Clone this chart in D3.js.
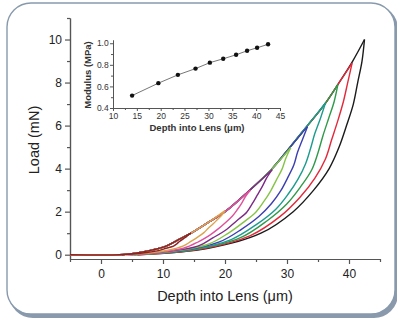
<!DOCTYPE html>
<html>
<head>
<meta charset="utf-8">
<script src="https://cdn.jsdelivr.net/npm/d3@7"></script>
<style>
  body { margin: 0; background: #ffffff; }
  svg { display: block; }
  text { font-family: "Liberation Sans", Arial, sans-serif; fill: #222; }
</style>
</head>
<body>
<svg id="chart" width="397" height="320"></svg>
<script>
// shared loading envelope (depth in um, load in mN)
const envDepth = [-5, 3, 5, 8, 10.5, 12.5, 14.5, 17.3, 20, 24, 27.6, 30.5, 33.3, 36.1, 38.4, 40.6, 42.5];
const envLoad  = [0, 0, 0.05, 0.2, 0.4, 0.7, 1, 1.5, 2, 3, 4, 5, 6, 7, 8, 9, 10];

// one loop per indentation depth, largest first
const loopNames  = ['black', 'red', 'green', 'teal', 'blue', 'lime', 'purple', 'magenta', 'orange', 'brown'];
const loopColors = ['#1b1b1b', '#e3293a', '#2f9a4a', '#1c9c8e', '#3b3fb0', '#86c448', '#7d2a86', '#e0509c', '#dda24a', '#8c2424'];
const peakDepth  = [42.5, 40.5, 38.2, 36.2, 33.3, 30.6, 27.6, 24.1, 20, 14.5];
const peakLoad   = [10, 8.9, 7.9, 7.05, 5.95, 4.97, 3.95, 3.0, 2.05, 1.0];

// unloading branches, read at 90%,80%...10%,3%,0% of the peak load
const unloadFrac = [0.9, 0.8, 0.7, 0.6, 0.5, 0.4, 0.3, 0.2, 0.1, 0.03, 0];
const unloadDepth = [
  [42.1, 41.4, 40.7, 39.6, 38.4, 36.8, 34.3, 31.0, 25.8, 17.3, 6.0],
  [39.8, 39.1, 38.2, 37.2, 36.2, 34.5, 32.1, 28.9, 24.1, 16.2, 5.8],
  [37.6, 36.7, 35.8, 35.0, 34.0, 32.2, 30.0, 26.8, 22.5, 15.1, 5.5],
  [35.4, 34.5, 33.8, 33.0, 31.8, 30.2, 28.2, 25.1, 21.0, 14.1, 5.3],
  [32.5, 31.7, 31.1, 30.1, 29.0, 27.5, 25.5, 22.7, 19.1, 12.8, 4.9],
  [29.8, 29.2, 28.3, 27.4, 26.3, 25.0, 22.9, 20.5, 17.4, 11.4, 4.7],
  [26.7, 26.0, 25.2, 24.4, 23.5, 21.9, 20.3, 18.1, 15.6, 10.0, 4.4],
  [23.3, 22.7, 22.0, 21.2, 20.1, 18.9, 17.5, 15.7, 13.3, 8.6, 4.1],
  [19.5, 18.8, 18.1, 17.3, 16.6, 15.6, 14.5, 13.3, 10.8, 7.2, 3.7],
  [14.0, 13.6, 13.1, 12.6, 12.2, 11.7, 10.5, 9.4, 7.4, 5.2, 3.4]
];

// inset: modulus vs depth
const modDepth = [14, 19.5, 23.6, 27.3, 30.3, 33.1, 35.8, 38.1, 40.2, 42.5];
const modValue = [0.515, 0.63, 0.707, 0.765, 0.82, 0.856, 0.893, 0.93, 0.958, 0.99];

const xTicks = [0, 10, 20, 30, 40];
const yTicks = [0, 2, 4, 6, 8, 10];
const inXTicks = [10, 15, 20, 25, 30, 35, 40, 45];
const inYTicks = [0.4, 0.6, 0.8, 1.0];

const svg = d3.select('#chart');

// card frame with shadow
svg.append('rect')
  .attr('x', 9).attr('y', 5).attr('width', 389).attr('height', 313)
  .attr('rx', 24).attr('fill', '#8a9aac');
svg.append('rect')
  .attr('x', 7).attr('y', 3).attr('width', 388).attr('height', 311)
  .attr('rx', 24).attr('fill', '#fff')
  .attr('stroke', '#8799ad').attr('stroke-width', 1.4);

// main plot
const x = d3.scaleLinear().domain([-5, 45]).range([70, 380]);
const y = d3.scaleLinear().domain([-0.2, 11]).range([259, 18]);

const axisColor = '#555';

const xAxis = svg.append('g').attr('transform', 'translate(0,259)');
xAxis.call(d3.axisBottom(x).tickValues(xTicks).tickSize(5).tickSizeOuter(0).tickFormat(d3.format('d')));
xAxis.append('g').call(d3.axisBottom(x).tickValues([-5, 5, 15, 25, 35, 45]).tickSize(3).tickSizeOuter(0).tickFormat(''));
xAxis.selectAll('path').attr('stroke', axisColor).attr('stroke-width', 1.2);
xAxis.selectAll('line').attr('stroke', axisColor).attr('stroke-width', 1.2);
xAxis.selectAll('text').attr('font-size', 12).attr('dy', '0.9em').style('fill', '#222');

const yAxis = svg.append('g').attr('transform', 'translate(70,0)');
yAxis.call(d3.axisLeft(y).tickValues(yTicks).tickSize(5).tickSizeOuter(0).tickFormat(d3.format('d')));
yAxis.append('g').call(d3.axisLeft(y).tickValues([1, 3, 5, 7, 9, 11]).tickSize(3).tickSizeOuter(0).tickFormat(''));
yAxis.selectAll('path').attr('stroke', axisColor).attr('stroke-width', 1.2);
yAxis.selectAll('line').attr('stroke', axisColor).attr('stroke-width', 1.2);
yAxis.selectAll('text').attr('font-size', 12).style('fill', '#222');

svg.append('text')
  .attr('x', 225).attr('y', 301)
  .attr('text-anchor', 'middle')
  .attr('font-size', 14.5)
  .text('Depth into Lens (μm)');

svg.append('text')
  .attr('transform', 'translate(39,140) rotate(-90)')
  .attr('text-anchor', 'middle')
  .attr('font-size', 14.5)
  .text('Load (mN)');

// loops
const line = d3.line()
  .x(d => x(d[0]))
  .y(d => y(d[1]))
  .curve(d3.curveCatmullRom.alpha(0.5));

const curves = svg.append('g').attr('fill', 'none').attr('stroke-width', 1.4);

loopNames.forEach((name, i) => {
  const loading = envDepth
    .map((h, k) => [h, envLoad[k]])
    .filter(p => p[1] < peakLoad[i] - 0.05);
  loading.push([peakDepth[i], peakLoad[i]]);

  const unloading = [[peakDepth[i], peakLoad[i]]]
    .concat(unloadDepth[i].map((h, k) => [h, unloadFrac[k] * peakLoad[i]]));

  curves.append('path')
    .attr('class', 'unload ' + name)
    .attr('d', line(unloading))
    .attr('stroke', loopColors[i]);
  curves.append('path')
    .attr('class', 'load ' + name)
    .attr('d', line(loading))
    .attr('stroke', loopColors[i]);
});

// inset
const ix = d3.scaleLinear().domain([10, 45]).range([113, 280]);
const iy = d3.scaleLinear().domain([0.4, 1.03]).range([108, 40]);

const ixAxis = svg.append('g').attr('transform', 'translate(0,108)');
ixAxis.call(d3.axisBottom(ix).tickValues(inXTicks).tickSize(3).tickSizeOuter(0).tickFormat(d3.format('d')));
ixAxis.append('g').call(d3.axisBottom(ix).tickValues(d3.range(12.5, 45, 5)).tickSize(2).tickSizeOuter(0).tickFormat(''));
ixAxis.selectAll('path, line').attr('stroke', axisColor).attr('stroke-width', 1);
ixAxis.selectAll('text').attr('font-size', 8.5).attr('dy', '0.6em').style('fill', '#333');

const iyAxis = svg.append('g').attr('transform', 'translate(113,0)');
iyAxis.call(d3.axisLeft(iy).tickValues(inYTicks).tickSize(3).tickSizeOuter(0).tickFormat(d3.format('.1f')));
iyAxis.append('g').call(d3.axisLeft(iy).tickValues([0.5, 0.7, 0.9]).tickSize(2).tickSizeOuter(0).tickFormat(''));
iyAxis.selectAll('path, line').attr('stroke', axisColor).attr('stroke-width', 1);
iyAxis.selectAll('text').attr('font-size', 8.5).attr('dx', '0.2em').style('fill', '#333');

svg.append('path')
  .datum(modDepth.map((h, k) => [h, modValue[k]]))
  .attr('fill', 'none')
  .attr('stroke', '#666')
  .attr('stroke-width', 0.9)
  .attr('d', d3.line().x(d => ix(d[0])).y(d => iy(d[1])));

svg.append('g').selectAll('circle')
  .data(modDepth.map((h, k) => [h, modValue[k]]))
  .join('circle')
  .attr('cx', d => ix(d[0]))
  .attr('cy', d => iy(d[1]))
  .attr('r', 2.2)
  .attr('fill', '#111');

svg.append('text')
  .attr('x', 197).attr('y', 131)
  .attr('text-anchor', 'middle')
  .attr('font-size', 9.5)
  .attr('font-weight', 'bold')
  .style('fill', '#333')
  .text('Depth into Lens (μm)');

svg.append('text')
  .attr('transform', 'translate(91,75) rotate(-90)')
  .attr('text-anchor', 'middle')
  .attr('font-size', 9.5)
  .attr('font-weight', 'bold')
  .style('fill', '#333')
  .text('Modulus (MPa)');
</script>
</body>
</html>
